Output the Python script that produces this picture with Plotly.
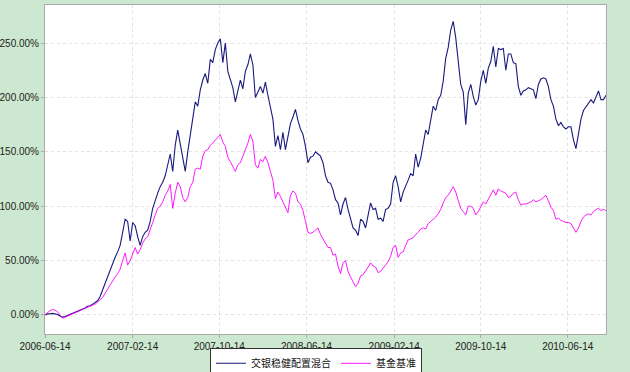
import pandas as pd
import plotly.graph_objects as go

start_date = "2006-06-14"
n_weeks = 225

fund_name = "交银稳健配置混合"
bench_name = "基金基准"

fund = [
    0, 1, 1, 1.5, 1, 0.5, -1, -2, -1.5, -0.5,
    0.5, 1.5, 2.5, 3, 4, 5, 6.5, 8, 8.5, 10,
    11.5, 13, 17, 23, 30, 35, 42, 47, 53, 58,
    64, 76, 88, 86, 68, 85, 82, 72, 64, 72,
    76, 78, 86, 98, 106, 112, 118, 122, 128, 138,
    148, 132, 156, 170, 158, 145, 132, 150, 167, 182,
    196, 192, 207, 216, 222, 213, 235, 232, 244, 250,
    254, 232, 250, 224, 217, 209, 196, 207, 216, 208,
    224, 230, 240, 230, 200, 205, 210, 204, 214, 202,
    190, 180, 155, 165, 152, 168, 152, 165, 176, 182,
    189, 179, 171, 166, 155, 140, 145, 146, 150, 148,
    146, 140, 128, 122, 121, 115, 106, 103, 92, 102,
    108, 97, 88, 80, 78, 73, 88, 86, 80, 92,
    103, 97, 98, 88, 89, 86, 97, 98, 102, 122,
    128, 118, 104, 113, 118, 124, 130, 128, 148, 136,
    144, 158, 170, 166, 180, 192, 188, 198, 202, 215,
    236, 246, 262, 270, 255, 235, 212, 205, 175, 204,
    212, 201, 193, 198, 215, 225, 213, 227, 233, 247,
    228, 245, 244, 245, 225, 240, 240, 232, 231, 210,
    202, 206, 207, 209, 208, 207, 199, 212, 217, 218,
    217, 210, 198, 192, 180, 174, 177, 173, 171, 173,
    173, 161, 153, 166, 180, 188, 191, 194, 198, 195,
    201, 206, 198, 198, 202,
]

bench = [
    0, 2, 4, 5, 4.5, 3, 0, -3, -2, -1,
    0, 1, 2, 2.5, 3.5, 4.5, 5.5, 6.5, 7.5, 9,
    10, 12, 14, 16, 20, 24, 28, 31, 35, 38,
    42, 50, 57, 46, 50, 56, 62, 56, 60, 66,
    70, 72, 78, 85, 92, 98, 100, 104, 110, 114,
    120, 98, 112, 122, 118, 108, 104, 108, 118, 122,
    134, 135, 134, 146, 151, 152, 156, 158, 161, 163,
    166, 159, 155, 145, 141, 136, 132, 138, 140, 146,
    152, 158, 166, 160, 138, 135, 143, 141, 146, 140,
    132, 124, 107, 113, 109, 104, 98, 94, 110, 114,
    112, 104, 102, 96, 86, 76, 75, 76, 78, 80,
    74, 70, 66, 62, 62, 55, 56, 45, 38, 48,
    50, 40, 35, 31, 26, 29, 36, 37, 40, 44,
    48, 45, 44, 39, 40, 43, 47, 49, 54, 62,
    64, 53, 57, 58, 64, 69, 70, 71, 74, 76,
    79, 80, 79, 84, 86, 88, 90, 93, 97, 103,
    108, 110, 114, 118, 113, 106, 98, 95, 92, 100,
    100, 98, 92, 95, 99, 104, 102, 106, 111, 115,
    110, 116, 114, 113, 112, 108, 109, 112, 113, 106,
    101, 102, 102, 103, 104, 106, 104, 105, 106, 108,
    110, 105, 99, 96, 88, 89, 87, 86, 85, 85,
    84, 80, 76, 80, 86, 90, 92, 93, 92, 95,
    97, 98, 96, 97, 96,
]

x_ticks = ["2006-06-14", "2007-02-14", "2007-10-14", "2008-06-14",
           "2009-02-14", "2009-10-14", "2010-06-14"]
y_ticks = [0, 50, 100, 150, 200, 250]
y_tick_labels = ["0.00%", "50.00%", "100.00%", "150.00%", "200.00%", "250.00%"]

dates = pd.date_range(start_date, periods=n_weeks, freq="7D")

fig = go.Figure()
fig.add_trace(go.Scatter(x=dates, y=fund, mode="lines", name=fund_name,
                         line=dict(color="#1a1a80", width=1.1)))
fig.add_trace(go.Scatter(x=dates, y=bench, mode="lines", name=bench_name,
                         line=dict(color="#ff00ff", width=0.9)))

fig.update_layout(
    width=630, height=372,
    margin=dict(l=45, r=24, t=5, b=38, autoexpand=False),
    paper_bgcolor="#cde8d0",
    plot_bgcolor="#ffffff",
    font=dict(family="Liberation Sans, Arial, sans-serif", size=10, color="#222"),
    showlegend=True,
    legend=dict(orientation="h", x=0.483, xanchor="center", y=-0.042, yanchor="top",
                bgcolor="#ffffff", bordercolor="#333", borderwidth=1,
                font=dict(family="Noto Sans CJK SC", size=10, color="#111"),
                itemwidth=30, tracegroupgap=0),
)
fig.update_xaxes(
    type="date", automargin=False,
    range=[dates[0], dates[-1]],
    tickvals=x_ticks, ticktext=x_ticks,
    showgrid=True, gridcolor="#e2e2e2", griddash="dot", gridwidth=1,
    showline=True, linecolor="#aaaaaa", linewidth=1, mirror=True,
    ticks="outside", ticklen=3, tickcolor="#aaaaaa",
    zeroline=False,
)
fig.update_yaxes(
    automargin=False,
    range=[-17.5, 285],
    tickvals=y_ticks, ticktext=y_tick_labels,
    showgrid=True, gridcolor="#e2e2e2", griddash="dot", gridwidth=1,
    showline=True, linecolor="#aaaaaa", linewidth=1, mirror=True,
    ticks="outside", ticklen=3, tickcolor="#aaaaaa",
    zeroline=False,
)

fig.write_html("out.html", config={"displayModeBar": False},
               post_script="document.body.style.margin='0';")
